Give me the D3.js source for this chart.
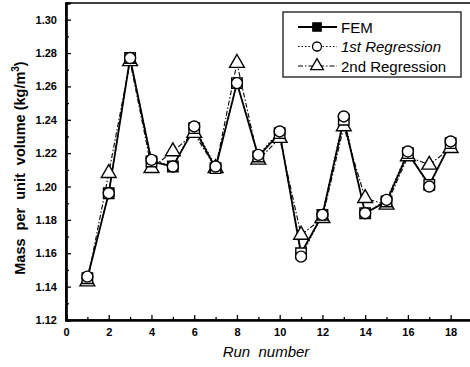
<!DOCTYPE html>
<html>
<head>
<meta charset="utf-8">
<script src="https://cdn.jsdelivr.net/npm/d3@7"></script>
<style>
  html, body { margin: 0; padding: 0; background: #fff; }
  svg { display: block; font-family: "Liberation Sans", Arial, sans-serif; }
  text { white-space: pre; }
</style>
</head>
<body>
<div id="chart"></div>
<script>
// run numbers and the three series
var runs = [1, 2, 3, 4, 5, 6, 7, 8, 9, 10, 11, 12, 13, 14, 15, 16, 17, 18];
var fem = [1.145, 1.196, 1.277, 1.215, 1.212, 1.235, 1.211, 1.262, 1.218, 1.232, 1.160, 1.183, 1.240, 1.184, 1.191, 1.220, 1.201, 1.226];
var reg1 = [1.146, 1.196, 1.277, 1.216, 1.212, 1.236, 1.212, 1.262, 1.219, 1.233, 1.158, 1.183, 1.242, 1.184, 1.192, 1.221, 1.200, 1.227];
var reg2 = [1.143, 1.208, 1.275, 1.211, 1.221, 1.232, 1.211, 1.274, 1.216, 1.229, 1.171, 1.181, 1.236, 1.193, 1.189, 1.218, 1.213, 1.223];
var xTicks = [0, 2, 4, 6, 8, 10, 12, 14, 16, 18];
var yTicks = [1.12, 1.14, 1.16, 1.18, 1.20, 1.22, 1.24, 1.26, 1.28, 1.30];
var legendNames = ["FEM", "1st Regression", "2nd Regression"];

var width = 470, height = 367;
var plotLeft = 66, plotRight = 472, plotTop = 3, plotBottom = 320;

var svg = d3.select("#chart").append("svg")
    .attr("width", width)
    .attr("height", height);

var x = d3.scaleLinear().domain([0, 19]).range([plotLeft, plotRight]);
var y = d3.scaleLinear().domain([1.12, 1.31]).range([plotBottom, plotTop]);

// frame
svg.append("rect")
    .attr("x", plotLeft).attr("y", plotTop)
    .attr("width", plotRight - plotLeft).attr("height", plotBottom - plotTop)
    .style("fill", "none").style("stroke", "#000").style("stroke-width", 1.5);

// axes with inward ticks
svg.append("g")
    .attr("transform", "translate(0," + plotBottom + ")")
    .call(d3.axisBottom(x).tickValues(xTicks).tickSize(-5).tickPadding(8).tickFormat(d3.format("d")));
svg.append("g")
    .attr("transform", "translate(0," + plotBottom + ")")
    .call(d3.axisBottom(x).tickValues(d3.range(1, 19, 2)).tickSize(-3).tickFormat(""));

svg.append("g")
    .attr("transform", "translate(" + plotLeft + ",0)")
    .call(d3.axisLeft(y).tickValues(yTicks).tickSize(-5).tickPadding(9).tickFormat(d3.format(".2f")));
svg.append("g")
    .attr("transform", "translate(" + plotLeft + ",0)")
    .call(d3.axisLeft(y).tickValues(d3.range(1.13, 1.31, 0.02)).tickSize(-3).tickFormat(""));

svg.selectAll(".domain").style("stroke", "#000").style("stroke-width", 2.2);
svg.selectAll(".tick line").style("stroke", "#000").style("stroke-width", 1.3);
svg.selectAll(".tick text")
    .style("font-size", "11px").style("font-weight", "bold").style("fill", "#000");

// axis titles
svg.append("text")
    .attr("x", 266).attr("y", 357)
    .attr("text-anchor", "middle")
    .style("font-size", "15px").style("font-style", "italic")
    .text("Run  number");

svg.append("text")
    .attr("transform", "translate(25,168) rotate(-90)")
    .attr("text-anchor", "middle")
    .style("font-size", "14.5px").style("font-weight", "bold")
    .html("Mass  per  unit  volume (kg/m<tspan dy='-6' font-size='10px'>3</tspan><tspan dy='6'>)</tspan>");

// lines
function pts(vals) {
    return runs.map(function(r, i) { return [r, vals[i]]; });
}
var line = d3.line().x(function(d) { return x(d[0]); }).y(function(d) { return y(d[1]); });

svg.append("path").datum(pts(reg2)).attr("d", line)
    .style("fill", "none").style("stroke", "#000").style("stroke-width", 1.1)
    .style("stroke-dasharray", "5,2,1.5,2");
svg.append("path").datum(pts(reg1)).attr("d", line)
    .style("fill", "none").style("stroke", "#000").style("stroke-width", 1.1)
    .style("stroke-dasharray", "1.5,2");
svg.append("path").datum(pts(fem)).attr("d", line)
    .style("fill", "none").style("stroke", "#000").style("stroke-width", 1.8);

// markers
var sq = d3.symbol().type(d3.symbolSquare).size(110);
var tri = d3.symbol().type(d3.symbolTriangle).size(95);

svg.selectAll(".tri").data(pts(reg2)).enter().append("path")
    .attr("d", tri)
    .attr("transform", function(d) { return "translate(" + x(d[0]) + "," + y(d[1]) + ")"; })
    .style("fill", "#fff").style("stroke", "#000").style("stroke-width", 1.4);
svg.selectAll(".sq").data(pts(fem)).enter().append("path")
    .attr("d", sq)
    .attr("transform", function(d) { return "translate(" + x(d[0]) + "," + y(d[1]) + ")"; })
    .style("fill", "#fff").style("stroke", "#000").style("stroke-width", 1.4);
svg.selectAll(".circ").data(pts(reg1)).enter().append("circle")
    .attr("cx", function(d) { return x(d[0]); })
    .attr("cy", function(d) { return y(d[1]); })
    .attr("r", 5.5)
    .style("fill", "#fff").style("stroke", "#000").style("stroke-width", 1.4);

// legend
var lg = svg.append("g").attr("transform", "translate(283,12)");
lg.append("rect").attr("width", 178).attr("height", 65)
    .style("fill", "#fff").style("stroke", "#000").style("stroke-width", 1.2);

var styles = [
    { dash: null, w: 1.8 },
    { dash: "1.5,2", w: 1.1 },
    { dash: "5,2,1.5,2", w: 1.1 }
];
legendNames.forEach(function(name, i) {
    var ly = 15 + i * 19.5;
    lg.append("line").attr("x1", 15).attr("x2", 54).attr("y1", ly).attr("y2", ly)
        .style("stroke", "#000").style("stroke-width", styles[i].w)
        .style("stroke-dasharray", styles[i].dash);
    var m;
    if (i === 0) {
        m = lg.append("path").attr("d", d3.symbol().type(d3.symbolSquare).size(70))
            .style("fill", "#000");
    } else if (i === 1) {
        m = lg.append("circle").attr("r", 4.5).style("fill", "#fff");
    } else {
        m = lg.append("path").attr("d", d3.symbol().type(d3.symbolTriangle).size(70))
            .style("fill", "#fff");
    }
    m.attr("transform", "translate(34," + ly + ")")
        .style("stroke", "#000").style("stroke-width", 1.3);
    lg.append("text").attr("x", 58).attr("y", ly + 5.5)
        .style("font-size", "15px")
        .style("font-style", i === 1 ? "italic" : "normal")
        .text(name);
});
</script>
</body>
</html>
